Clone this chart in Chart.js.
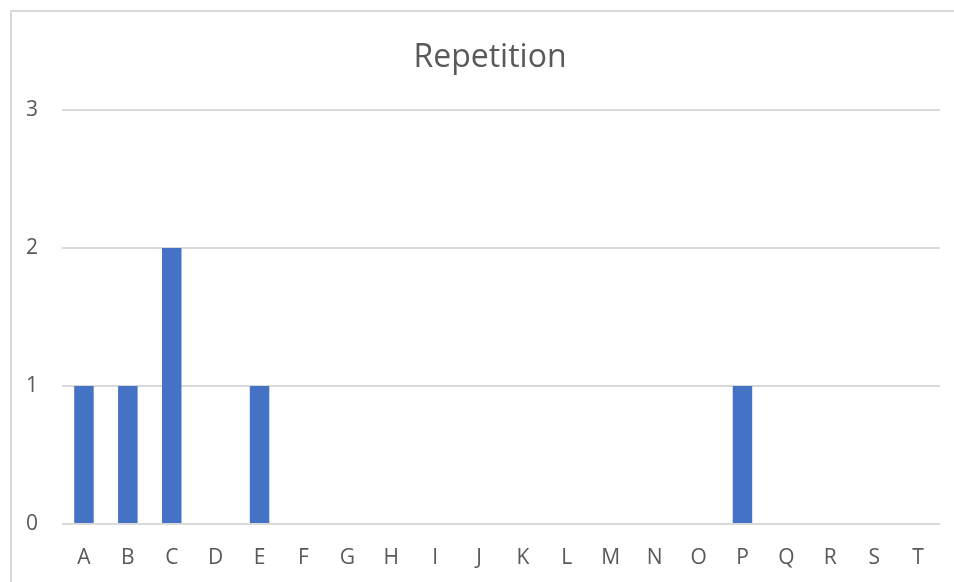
<!DOCTYPE html>
<html>
<head>
<meta charset="utf-8">
<script src="https://cdn.jsdelivr.net/npm/chart.js@4/dist/chart.umd.min.js"></script>
<style>
  html, body { margin: 0; padding: 0; background: #ffffff; }
  #chart { display: block; }
</style>
</head>
<body>
<canvas id="chart" width="954" height="582"></canvas>
<script>
// Letters counted and how many times each one repeats
const categories = ['A','B','C','D','E','F','G','H','I','J','K','L','M','N','O','P','Q','R','S','T'];
const repetitions = [1, 1, 2, 0, 1, 0, 0, 0, 0, 0, 0, 0, 0, 0, 0, 1, 0, 0, 0, 0];
const yTickValues = [0, 1, 2, 3];

const FONT = '"Open Sans", "Segoe UI", Calibri, sans-serif';
const TEXT = '#595959';
const GRID = '#d9d9d9';

// Light frame around the chart
const framePlugin = {
  id: 'frame',
  beforeDraw(chart) {
    const ctx = chart.ctx;
    ctx.save();
    ctx.fillStyle = '#ffffff';
    ctx.fillRect(0, 0, chart.width, chart.height);
    ctx.strokeStyle = GRID;
    ctx.lineWidth = 2;
    ctx.strokeRect(11, 11, chart.width + 20, chart.height + 20);
    ctx.restore();
  }
};

new Chart(document.getElementById('chart'), {
  type: 'bar',
  data: {
    labels: categories,
    datasets: [{
      label: 'Repetition',
      data: repetitions,
      backgroundColor: '#4472c4',
      borderWidth: 0,
      barPercentage: 0.444,
      categoryPercentage: 1.0
    }]
  },
  options: {
    responsive: false,
    animation: false,
    layout: { padding: { left: 40, right: 14, top: 10, bottom: 0 } },
    plugins: {
      legend: { display: false },
      tooltip: { enabled: false },
      title: {
        display: true,
        text: 'Repetition',
        color: TEXT,
        font: { family: FONT, size: 32, weight: 'normal', lineHeight: 1.2 },
        padding: { top: 28.8, bottom: 32.8 }
      }
    },
    scales: {
      x: {
        grid: { display: false },
        border: { display: false },
        ticks: {
          color: TEXT,
          font: { family: FONT, size: 21 },
          padding: 13,
          maxRotation: 0,
          autoSkip: false
        },
        afterFit(scale) { scale.height = 58; }
      },
      y: {
        min: yTickValues[0],
        max: yTickValues[yTickValues.length - 1],
        grid: { color: GRID, lineWidth: 2, drawTicks: false },
        border: { display: false },
        ticks: {
          stepSize: 1,
          color: TEXT,
          font: { family: FONT, size: 21 },
          // labels sit left of the narrow axis box (mirror avoids clipping)
          mirror: true,
          padding: -36,
          autoSkip: false
        },
        afterFit(scale) { scale.width = 22; }
      }
    }
  },
  plugins: [framePlugin]
});
</script>
</body>
</html>
